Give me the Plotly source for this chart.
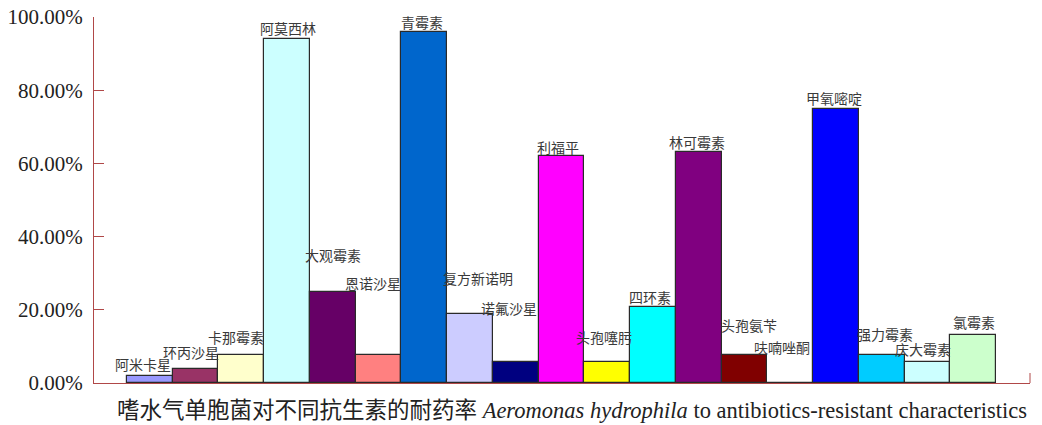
import plotly.graph_objects as go

# ---- data ----
drugs = ["阿米卡星", "环丙沙星", "卡那霉素", "阿莫西林", "大观霉素", "恩诺沙星",
         "青霉素", "复方新诺明", "诺氟沙星", "利福平", "头孢噻肟", "四环素",
         "林可霉素", "头孢氨苄", "呋喃唑酮", "甲氧嘧啶", "强力霉素", "庆大霉素", "氯霉素"]
resistance = [1.89, 3.77, 7.55, 94.0, 24.8, 7.55, 96.0, 18.87, 5.66, 62.0, 5.66,
              20.75, 63.0, 7.55, 0.0, 75.0, 7.55, 5.66, 13.21]
y_ticks = [0, 20, 40, 60, 80, 100]
y_tick_labels = [f"{t:.2f}%" for t in y_ticks]

# ---- styles ----
colors = ["#9999ff", "#993366", "#ffffcc", "#ccffff", "#660066", "#ff8080",
          "#0066cc", "#ccccff", "#000080", "#ff00ff", "#ffff00", "#00ffff",
          "#800080", "#800000", "#008080", "#0000ff", "#00ccff", "#ccffff", "#ccffcc"]
label_dx = [-7, -5, -5, 1, 0, -6, -2, 8, -7, -4, -3, -3, -2, 4, -8, -2, 3, -5, 1]
label_dy = [12, 17, 18, 11, 37, 72, 10, 36, 54, 9, 25, 10, 10, 30, 36, 11, 21, 13, 13]

axis_red = "#b04848"
cjk = "Liberation Serif, Noto Sans CJK SC"

xs = list(range(len(drugs)))

fig = go.Figure(go.Bar(
    x=xs, y=resistance, width=1.0,
    marker=dict(color=colors, line=dict(color="#2a2a2a", width=1.2)),
    hovertext=drugs, showlegend=False,
))

annotations = []
for i, (name, v) in enumerate(zip(drugs, resistance)):
    annotations.append(dict(
        x=i, y=v, xref="x", yref="y", text=name, showarrow=False,
        xshift=label_dx[i], yshift=label_dy[i], yanchor="middle", xanchor="center",
        font=dict(family="Noto Sans CJK SC", size=14, color="#3a3a3a"),
    ))

annotations.append(dict(
    x=0.5, y=0, xref="paper", yref="paper", showarrow=False,
    xshift=10, yshift=-27, yanchor="middle", xanchor="center",
    text="嗜水气单胞菌对不同抗生素的耐药率 <i>Aeromonas hydrophila</i> to antibiotics-resistant characteristics",
    font=dict(family=cjk, size=22.5, color="#222222"),
))

fig.update_layout(
    width=1042, height=425,
    margin=dict(l=94, r=12, t=17, b=42),
    paper_bgcolor="white", plot_bgcolor="white",
    bargap=0,
    xaxis=dict(range=[-1.22, 19.24], showticklabels=False, ticks="",
               showgrid=False, zeroline=False, showline=True, automargin=False,
               linecolor=axis_red, linewidth=1),
    yaxis=dict(range=[0, 100], tickvals=y_ticks, ticktext=y_tick_labels,
               ticks="inside", ticklen=10, tickcolor=axis_red, tickwidth=1,
               showgrid=False, zeroline=False, showline=True, automargin=False,
               linecolor=axis_red, linewidth=1, ticklabelstandoff=6,
               tickfont=dict(family="Liberation Serif", size=21, color="#222222")),
    annotations=annotations,
    shapes=[dict(type="line", xref="paper", yref="paper", x0=1, x1=1,
                 y0=0, y1=10 / 366, line=dict(color=axis_red, width=1))],
)

fig.write_html("out.html")
